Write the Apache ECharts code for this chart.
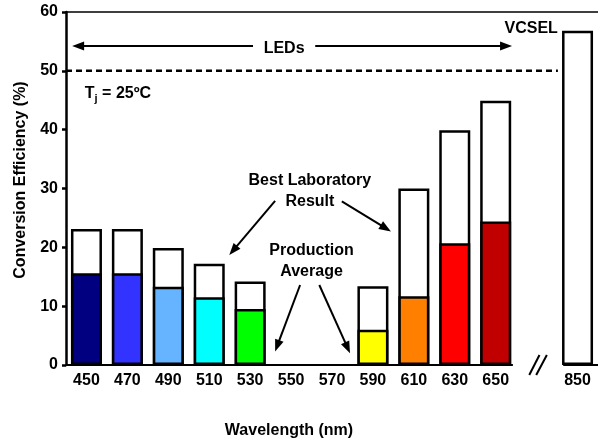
<!DOCTYPE html>
<html><head><meta charset="utf-8">
<script src="https://cdn.jsdelivr.net/npm/echarts@6/dist/echarts.min.js"></script>
<style>html,body{margin:0;padding:0;background:#fff}#c{width:598px;height:443px}</style>
</head><body><div id="c"></div>
<script>
// ---- data ----
const categories = ['450','470','490','510','530','550','570','590','610','630','650','','850'];
const bestLab    = [23.1, 23.1, 19.9, 17.2, 14.2, null, null, 13.4, 30.0, 39.9, 44.9, null, 56.8];
const production = [15.6, 15.6, 13.3, 11.5, 9.5, null, null, 6.0, 11.7, 20.7, 24.4, null, null];
const barColors  = ['#000080','#3333ff','#66b3ff','#00ffff','#00ff00',null,null,'#ffff00','#ff8000','#ff0000','#c00000',null,null];
const yMin = 0, yMax = 60, yStep = 10;
const xTitle = 'Wavelength (nm)';
const yTitle = 'Conversion Efficiency (%)';

// annotation geometry in axis units (x: 0..13 category slots, y: efficiency %)
const arrowSegs = [
  [4.57, 54.2, 0.15, 54.2],
  [6.09, 54.2, 10.9, 54.2],
  [5.11, 27.9, 3.99, 18.7],
  [6.74, 27.8, 7.94, 22.7],
  [5.72, 13.6, 5.11, 2.3],
  [6.19, 13.6, 6.94, 2.0]
];
const plainSegs = [
  [0, 0, 10.92, 0],
  [12.15, 0, 13, 0],
  [11.32, -1.7, 11.57, 1.7],
  [11.49, -1.7, 11.75, 1.7]
];
const dashedSegs = [[0, 50, 12.02, 50]];
const notes = [
  {x: 5.33, y: 53.8, text: 'LEDs', align: 'center'},
  {x: 12.02, y: 57.1, text: 'VCSEL', align: 'right'},
  {x: 0.46, y: 46.1, text: 'T{sub|j} = 25ºC', align: 'left'},
  {x: 5.96, y: 29.5, text: 'Best Laboratory\nResult', align: 'center'},
  {x: 6.0, y: 17.6, text: 'Production\nAverage', align: 'center'}
];

const FONT = '"Liberation Sans", Arial, sans-serif';

function segRenderer(withHead, dash) {
  return function (params, api) {
    const p1 = api.coord([api.value(0), api.value(1)]);
    const p2 = api.coord([api.value(2), api.value(3)]);
    const children = [];
    let end = p2;
    if (withHead) {
      const dx = p2[0] - p1[0], dy = p2[1] - p1[1];
      const len = Math.sqrt(dx * dx + dy * dy);
      const ux = dx / len, uy = dy / len;
      const L = 12, W = 4.5;
      const bx = p2[0] - ux * L, by = p2[1] - uy * L;
      end = [bx + ux * 1, by + uy * 1];
      children.push({type: 'polygon', shape: {points: [p2, [bx - uy * W, by + ux * W], [bx + uy * W, by - ux * W]]},
        style: {fill: '#000'}});
    }
    children.unshift({type: 'line', shape: {x1: p1[0], y1: p1[1], x2: end[0], y2: end[1]},
      style: {stroke: '#000', lineWidth: dash ? 2.5 : 2, lineDash: dash ? [6, 4] : null}});
    return {type: 'group', children: children};
  };
}

const chart = echarts.init(document.getElementById('c'), null, {renderer: 'canvas'});
chart.setOption({
  backgroundColor: '#fff',
  animation: false,
  grid: {left: 66, right: 0, top: 12, bottom: 78, containLabel: false},
  xAxis: [{
    type: 'category', data: categories, position: 'bottom',
    axisLine: {show: false}, axisTick: {show: false},
    axisLabel: {color: '#000', fontFamily: FONT, fontWeight: 'bold', fontSize: 16, margin: 8, interval: 0}
  }, {
    type: 'value', min: 0, max: 13, position: 'top',
    axisLine: {show: true, onZero: false, lineStyle: {color: '#000', width: 1.5}},
    axisTick: {show: false}, axisLabel: {show: false}, splitLine: {show: false}
  }],
  yAxis: {
    type: 'value', min: yMin, max: yMax, interval: yStep,
    axisLine: {show: true, lineStyle: {color: '#000', width: 2.5}},
    axisTick: {show: true, length: 4, lineStyle: {color: '#000', width: 2.5}},
    axisLabel: {color: '#000', fontFamily: FONT, fontWeight: 'bold', fontSize: 16, margin: 8},
    splitLine: {show: false}
  },
  graphic: [
    {type: 'text', x: 289, y: 431, style: {text: xTitle, font: 'bold 16px ' + FONT, fill: '#000', textAlign: 'center', textVerticalAlign: 'middle'}},
    {type: 'text', x: 21, y: 180, rotation: Math.PI / 2, style: {text: yTitle, font: 'bold 16px ' + FONT, fill: '#000', textAlign: 'center', textVerticalAlign: 'middle'}}
  ],
  series: [
    {
      name: 'Best Laboratory Result', type: 'bar', xAxisIndex: 0, data: bestLab,
      barWidth: 31, barGap: '-100%',
      itemStyle: {color: '#fff', borderColor: '#000', borderWidth: 2.5}
    },
    {
      name: 'Production Average', type: 'bar', xAxisIndex: 0, barWidth: 31, barGap: '-100%',
      data: production.map((v, i) => ({value: v, itemStyle: {color: barColors[i] || '#fff'}})),
      itemStyle: {borderColor: '#000', borderWidth: 2.5}
    },
    {
      type: 'custom', xAxisIndex: 1, yAxisIndex: 0, clip: false, silent: true,
      dimensions: ['x1','y1','x2','y2'], encode: {x: [0, 2], y: [1, 3]},
      data: dashedSegs, renderItem: segRenderer(false, true), z: 5
    },
    {
      type: 'custom', xAxisIndex: 1, yAxisIndex: 0, clip: false, silent: true,
      dimensions: ['x1','y1','x2','y2'], encode: {x: [0, 2], y: [1, 3]},
      data: plainSegs, renderItem: segRenderer(false, false), z: 5
    },
    {
      type: 'custom', xAxisIndex: 1, yAxisIndex: 0, clip: false, silent: true,
      dimensions: ['x1','y1','x2','y2'], encode: {x: [0, 2], y: [1, 3]},
      data: arrowSegs, renderItem: segRenderer(true, false), z: 5
    },
    {
      type: 'custom', xAxisIndex: 1, yAxisIndex: 0, clip: false, silent: true,
      dimensions: ['x','y'], encode: {x: 0, y: 1},
      data: notes.map(n => [n.x, n.y]),
      renderItem: function (params, api) {
        const n = notes[params.dataIndex];
        const p = api.coord([api.value(0), api.value(1)]);
        return {type: 'text', x: p[0], y: p[1], style: {
          text: n.text, fill: '#000', font: 'bold 16px ' + FONT,
          textAlign: n.align, textVerticalAlign: 'middle', lineHeight: 21,
          rich: {sub: {fontSize: 11, fontWeight: 'bold', fontFamily: FONT, fill: '#000', verticalAlign: 'bottom', padding: [8, 0, 0, 0]}}
        }};
      }, z: 6
    }
  ]
});
</script>
</body></html>
